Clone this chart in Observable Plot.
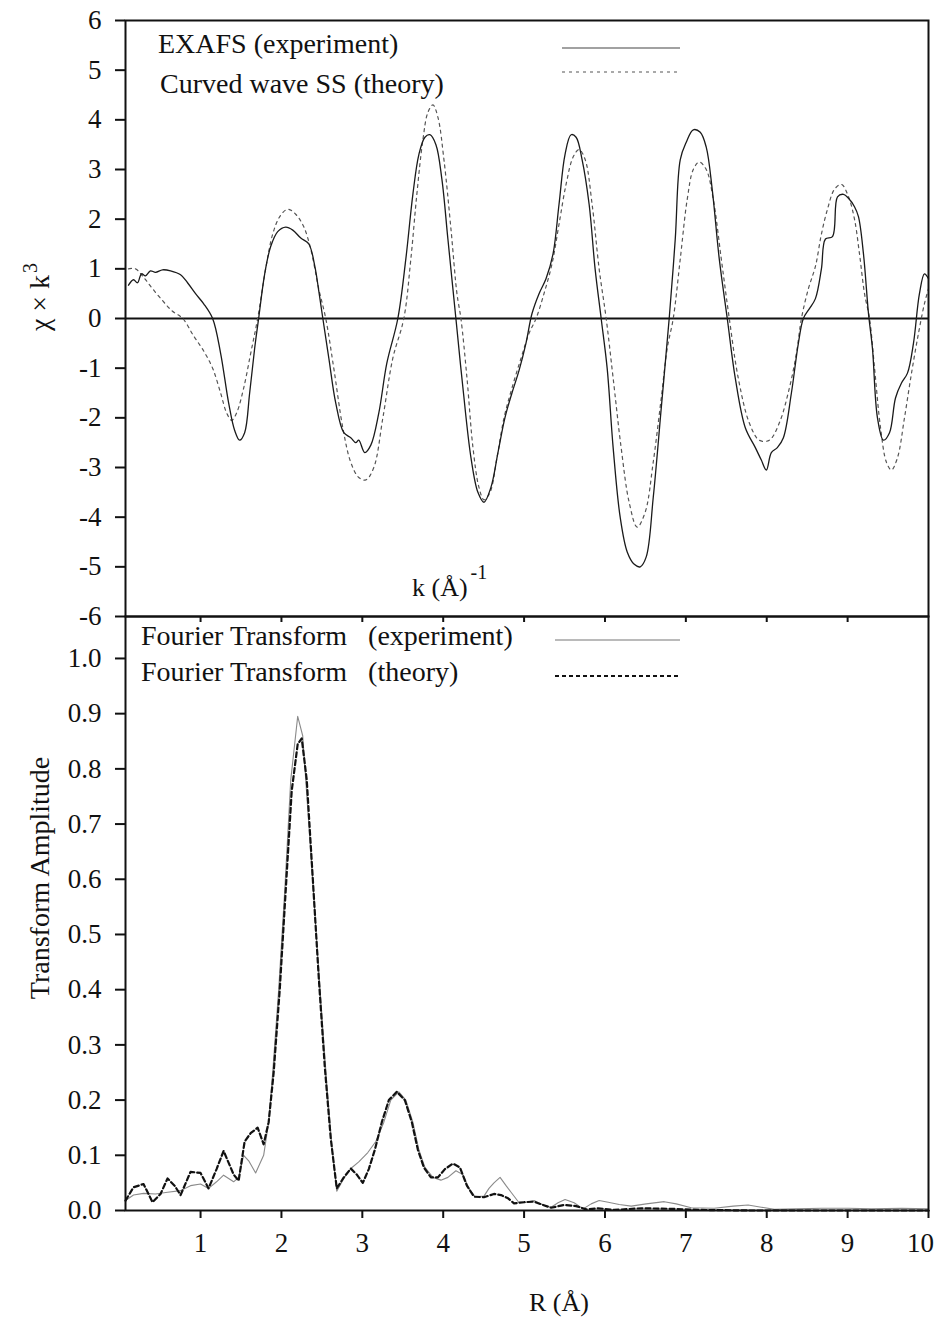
<!DOCTYPE html>
<html><head><meta charset="utf-8">
<script src="https://cdn.jsdelivr.net/npm/d3@7"></script>
<script src="https://cdn.jsdelivr.net/npm/@observablehq/plot@0.6"></script>
<style>
body{margin:0;background:#fff;}
#wrap{position:relative;width:936px;height:1318px;font-family:"Liberation Serif","Times New Roman",serif;color:#111;overflow:hidden;}
#wrap svg{position:absolute;left:0;}
.lbl{position:absolute;font-size:27px;white-space:nowrap;line-height:1;}
.rot{transform:translate(-50%,-50%) rotate(-90deg);}
.sample{position:absolute;}
</style></head><body><div id="wrap"></div>
<script>
// ---- Top panel: EXAFS chi(k)*k^3 ----
const kExp = [0.109,0.171,0.220,0.270,0.319,0.381,0.443,0.530,0.629,0.753,0.839,0.938,1.037,1.149,1.248,1.347,1.421,1.483,1.545,1.607,1.669,1.718,1.793,1.867,1.954,2.053,2.140,2.239,2.338,2.413,2.462,2.512,2.586,2.671,2.771,2.857,2.919,2.956,3.030,3.105,3.204,3.303,3.439,3.538,3.625,3.699,3.774,3.835,3.910,3.984,4.058,4.157,4.244,4.343,4.429,4.504,4.590,4.677,4.763,4.850,4.937,5.023,5.098,5.185,5.271,5.358,5.432,5.506,5.581,5.643,5.717,5.804,5.878,5.953,6.027,6.101,6.188,6.275,6.362,6.436,6.510,6.597,6.696,6.794,6.869,6.931,7.005,7.092,7.178,7.252,7.326,7.413,7.512,7.611,7.735,7.859,7.933,7.995,8.057,8.131,8.206,8.305,8.391,8.453,8.528,8.602,8.676,8.726,8.813,8.875,8.949,9.011,9.085,9.134,9.196,9.258,9.307,9.369,9.443,9.518,9.592,9.666,9.740,9.814,9.888,9.950,10.0];
const chiExp = [0.67,0.78,0.72,0.90,0.86,0.96,0.93,0.98,0.96,0.88,0.72,0.50,0.30,0.00,-0.70,-1.70,-2.25,-2.45,-2.30,-1.50,-0.60,0.00,0.90,1.45,1.75,1.84,1.78,1.62,1.50,1.05,0.55,0.00,-0.80,-1.70,-2.30,-2.40,-2.50,-2.45,-2.70,-2.55,-1.90,-0.90,0.00,1.20,2.50,3.30,3.65,3.70,3.50,2.80,1.60,0.00,-1.40,-2.80,-3.50,-3.70,-3.40,-2.70,-2.00,-1.50,-1.05,-0.50,0.10,0.50,0.80,1.30,2.30,3.30,3.70,3.65,3.20,2.30,1.00,0.00,-1.00,-2.60,-4.00,-4.70,-4.95,-5.00,-4.80,-3.60,-1.80,0.00,1.60,3.20,3.55,3.80,3.75,3.45,2.60,1.20,0.00,-1.20,-2.20,-2.60,-2.85,-3.05,-2.70,-2.60,-2.40,-1.50,-0.50,0.00,0.20,0.40,1.00,1.60,1.65,2.45,2.50,2.42,2.25,2.05,1.30,0.10,-0.60,-2.00,-2.45,-2.30,-1.60,-1.30,-1.10,-0.50,0.50,0.90,0.80];
const kThe = [0.109,0.196,0.295,0.406,0.530,0.650,0.780,0.914,1.037,1.149,1.248,1.322,1.384,1.446,1.533,1.620,1.706,1.805,1.892,1.979,2.077,2.176,2.275,2.362,2.461,2.548,2.647,2.759,2.858,2.956,3.043,3.142,3.254,3.377,3.513,3.600,3.674,3.749,3.811,3.873,3.935,4.009,4.096,4.170,4.219,4.294,4.368,4.442,4.504,4.579,4.665,4.752,4.850,4.962,5.061,5.148,5.246,5.345,5.432,5.519,5.606,5.680,5.755,5.841,5.928,6.015,6.101,6.200,6.299,6.398,6.497,6.596,6.696,6.770,6.844,6.931,7.017,7.092,7.166,7.252,7.339,7.438,7.537,7.648,7.784,7.908,8.032,8.156,8.280,8.367,8.429,8.515,8.602,8.676,8.751,8.837,8.924,9.011,9.085,9.147,9.209,9.271,9.333,9.407,9.481,9.542,9.617,9.703,9.790,9.876,9.950,10.0];
const chiThe = [1.00,1.00,0.83,0.60,0.36,0.15,0.00,-0.35,-0.65,-1.00,-1.50,-1.90,-2.05,-1.90,-1.40,-0.70,0.00,1.00,1.70,2.05,2.20,2.10,1.85,1.40,0.60,0.00,-1.00,-2.20,-2.90,-3.20,-3.25,-3.00,-2.00,-0.80,0.00,1.20,2.50,3.60,4.15,4.30,4.05,3.20,1.80,0.50,0.00,-1.20,-2.60,-3.40,-3.65,-3.50,-2.80,-2.00,-1.40,-0.80,-0.30,0.00,0.50,1.10,1.90,2.70,3.25,3.40,3.20,2.30,1.00,0.00,-1.20,-2.60,-3.70,-4.20,-3.90,-2.90,-1.60,-0.60,0.00,1.20,2.40,3.00,3.15,3.00,2.40,1.20,0.00,-1.20,-2.10,-2.45,-2.45,-2.10,-1.40,-0.70,0.00,0.60,1.05,1.70,2.20,2.60,2.70,2.45,2.00,1.30,0.50,0.00,-1.00,-2.20,-2.90,-3.05,-2.80,-2.00,-1.10,-0.30,0.30,0.60];
const chiTicks = [-6,-5,-4,-3,-2,-1,0,1,2,3,4,5,6];

// ---- Bottom panel: Fourier transform amplitude vs R ----
const rExp = [0.072,0.171,0.295,0.443,0.592,0.753,0.876,1.0,1.099,1.198,1.285,1.409,1.471,1.533,1.595,1.681,1.780,1.842,1.892,1.966,2.041,2.115,2.201,2.263,2.338,2.413,2.487,2.560,2.622,2.684,2.771,2.858,2.956,3.068,3.167,3.266,3.352,3.451,3.538,3.625,3.699,3.774,3.873,3.971,4.058,4.157,4.244,4.318,4.393,4.504,4.566,4.628,4.703,4.777,4.839,4.938,5.023,5.123,5.234,5.334,5.420,5.507,5.619,5.730,5.829,5.928,6.040,6.176,6.325,6.510,6.733,6.881,7.066,7.350,7.586,7.770,7.932,8.094,8.366,8.676,9.011,9.296,9.666,10.0];
const ampExp = [0.018,0.028,0.031,0.030,0.033,0.036,0.045,0.048,0.040,0.052,0.064,0.052,0.060,0.100,0.090,0.068,0.100,0.160,0.250,0.400,0.580,0.780,0.895,0.860,0.700,0.540,0.380,0.230,0.120,0.035,0.058,0.076,0.088,0.105,0.125,0.160,0.200,0.215,0.200,0.160,0.110,0.078,0.060,0.055,0.060,0.072,0.065,0.040,0.025,0.026,0.040,0.050,0.060,0.045,0.033,0.014,0.015,0.018,0.010,0.006,0.014,0.020,0.014,0.003,0.012,0.018,0.015,0.011,0.008,0.012,0.016,0.012,0.005,0.004,0.008,0.010,0.006,0.002,0.003,0.004,0.004,0.003,0.004,0.003];
const rThe = [0.072,0.171,0.295,0.406,0.505,0.592,0.679,0.753,0.876,1.0,1.099,1.198,1.285,1.409,1.471,1.545,1.619,1.706,1.780,1.842,1.904,1.979,2.053,2.127,2.201,2.251,2.313,2.388,2.462,2.536,2.610,2.684,2.771,2.858,2.932,3.006,3.080,3.155,3.241,3.328,3.427,3.526,3.612,3.687,3.761,3.848,3.935,4.021,4.120,4.207,4.293,4.380,4.504,4.628,4.715,4.802,4.876,5.000,5.123,5.234,5.334,5.495,5.644,5.768,5.916,6.114,6.449,6.820,7.189,7.808,8.429,9.172,10.0];
const ampThe = [0.018,0.042,0.048,0.015,0.030,0.058,0.045,0.028,0.070,0.068,0.040,0.075,0.108,0.065,0.054,0.125,0.140,0.150,0.120,0.160,0.250,0.400,0.580,0.760,0.845,0.855,0.780,0.600,0.420,0.260,0.130,0.040,0.060,0.076,0.065,0.050,0.075,0.110,0.160,0.200,0.215,0.200,0.160,0.110,0.078,0.060,0.060,0.075,0.085,0.078,0.045,0.025,0.024,0.030,0.028,0.022,0.013,0.015,0.016,0.010,0.005,0.010,0.008,0.002,0.004,0.001,0.004,0.003,0.001,0.000,0.000,0.000,0.000];
const ampTicks = [0,0.1,0.2,0.3,0.4,0.5,0.6,0.7,0.8,0.9,1.0];
const rTicks = [1,2,3,4,5,6,7,8,9,10];

const topExp = kExp.map((k,i)=>({k, chi: chiExp[i]}));
const topThe = kThe.map((k,i)=>({k, chi: chiThe[i]}));
const botExp = rExp.map((r,i)=>({r, a: ampExp[i]}));
const botThe = rThe.map((r,i)=>({r, a: ampThe[i]}));

const font = {fontFamily:'"Liberation Serif","Times New Roman",serif', fontSize:"27px", background:"transparent", color:"#111", overflow:"visible"};
const xDomain = [0.072, 10];
const lastTick = rTicks[rTicks.length - 1];

const topPlot = Plot.plot({
  width: 936, height: 640,
  marginLeft: 125, marginRight: 8, marginTop: 20, marginBottom: 24,
  style: font,
  x: {domain: xDomain},
  y: {domain: [-6, 6]},
  marks: [
    Plot.ruleY([0], {stroke:"#111", strokeWidth:2}),
    Plot.line(topThe, {x:"k", y:"chi", curve:"catmull-rom", stroke:"#555", strokeWidth:1.2, strokeDasharray:"3,4"}),
    Plot.line(topExp, {x:"k", y:"chi", curve:"catmull-rom", stroke:"#1a1a1a", strokeWidth:1.3}),
    Plot.axisY({ticks: chiTicks, tickFormat: d => String(d), tickSize: 10, tickPadding: 14, label: null, strokeWidth: 2}),
    Plot.axisX({ticks: rTicks.slice(0, -1), tickFormat: () => "", tickSize: 6, label: null, strokeWidth: 2}),
    Plot.frame({stroke:"#111", strokeWidth:2})
  ]
});
topPlot.style.top = "0px";

const botPlot = Plot.plot({
  width: 936, height: 718,
  marginLeft: 125, marginRight: 8, marginTop: 16, marginBottom: 108,
  style: font,
  x: {domain: xDomain},
  y: {domain: [0, 1.076]},
  marks: [
    Plot.line(botExp, {x:"r", y:"a", stroke:"#8a8a8a", strokeWidth:1.1}),
    Plot.line(botThe, {x:"r", y:"a", stroke:"#111", strokeWidth:2.2, strokeDasharray:"5,3"}),
    Plot.axisY({ticks: ampTicks, tickFormat: d => d.toFixed(1), tickSize: 10, tickPadding: 14, label: null, strokeWidth: 2}),
    Plot.axisX({ticks: rTicks, tickFormat: d => d === lastTick ? "" : String(d), tickSize: 8, tickPadding: 14, label: null, strokeWidth: 2}),
    Plot.axisX({ticks: [lastTick], tickFormat: d => String(d), tickSize: 0, tickPadding: 22, dx: -8, label: null}),
    Plot.frame({stroke:"#111", strokeWidth:2})
  ]
});
botPlot.style.top = "600px";

const wrap = document.getElementById("wrap");
wrap.appendChild(topPlot);
wrap.appendChild(botPlot);

function label(html, css, cls) {
  const d = document.createElement("div");
  d.className = "lbl" + (cls ? " " + cls : "");
  d.innerHTML = html;
  Object.assign(d.style, css);
  wrap.appendChild(d);
  return d;
}
function sample(x1, x2, y, stroke, width, dash) {
  const ns = "http://www.w3.org/2000/svg";
  const s = document.createElementNS(ns, "svg");
  s.setAttribute("class", "sample");
  s.setAttribute("width", x2 - x1);
  s.setAttribute("height", 6);
  s.style.left = x1 + "px";
  s.style.top = (y - 3) + "px";
  const l = document.createElementNS(ns, "line");
  l.setAttribute("x1", 0); l.setAttribute("x2", x2 - x1);
  l.setAttribute("y1", 3); l.setAttribute("y2", 3);
  l.setAttribute("stroke", stroke); l.setAttribute("stroke-width", width);
  if (dash) l.setAttribute("stroke-dasharray", dash);
  s.appendChild(l);
  wrap.appendChild(s);
}

// top legend
label("EXAFS (experiment)", {left:"158px", top:"30px", fontSize:"28px"});
label("Curved wave SS (theory)", {left:"160px", top:"70px", fontSize:"28px"});
sample(562, 680, 48, "#444", 1.2, null);
sample(562, 680, 72, "#555", 1.2, "3,4");
// bottom legend
label("Fourier Transform&nbsp;&nbsp;&nbsp;(experiment)", {left:"141px", top:"622px", fontSize:"28px"});
label("Fourier Transform&nbsp;&nbsp;&nbsp;(theory)", {left:"141px", top:"658px", fontSize:"28px"});
sample(555, 680, 640, "#777", 1.2, null);
sample(555, 680, 676, "#111", 2, "4,3");
// axis labels
label('k (Å)<span style="position:relative;top:-17px;font-size:20px;margin-left:3px">-1</span>', {left:"412px", top:"575px", fontSize:"26px"});
label("R (Å)", {left:"529px", top:"1290px", fontSize:"26px"});
label('χ × k<span style="position:relative;top:-12px;font-size:20px;margin-left:2px">3</span>', {left:"40px", top:"297px", fontSize:"28px"}, "rot");
label("Transform Amplitude", {left:"40px", top:"878px", fontSize:"28px"}, "rot");
</script>
</body></html>
